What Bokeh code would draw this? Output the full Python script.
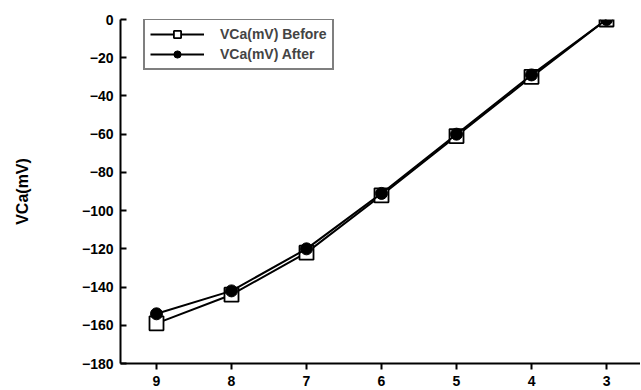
from bokeh.plotting import figure
from bokeh.models import Range1d, FixedTicker, Legend, LegendItem
from bokeh.embed import file_html
from bokeh.resources import INLINE

x_vals = [9, 8, 7, 6, 5, 4, 3]
before = [-159, -144, -122, -92, -61, -30, 0]
after = [-154, -142, -120, -91, -60, -29, 0]
y_ticks = [0, -20, -40, -60, -80, -100, -120, -140, -160, -180]
x_ticks = [9, 8, 7, 6, 5, 4, 3]
y_label = "VCa(mV)"
series_names = ["VCa(mV) Before", "VCa(mV) After"]

FONT = "Liberation Sans"

p = figure(width=640, height=388, output_backend="svg", toolbar_location=None,
           x_range=Range1d(9.48, 2.547), y_range=Range1d(-180, 0))
p.min_border_left = 120
p.min_border_top = 19
p.min_border_right = 0
p.min_border_bottom = 24
p.outline_line_color = None
p.xgrid.visible = False
p.ygrid.visible = False
p.background_fill_color = "white"
p.border_fill_color = "white"

r1l = p.line(x_vals, before, line_color="black", line_width=2)
r1m = p.scatter(x_vals, before, marker="square", size=14, fill_color="white",
                line_color="black", line_width=1.8)
r2l = p.line(x_vals, after, line_color="black", line_width=2)
r2m = p.scatter(x_vals, after, marker="circle", size=12, fill_color="black",
                line_color="black")

for ax in (p.xaxis[0], p.yaxis[0]):
    ax.axis_line_width = 2
    ax.axis_line_color = "black"
    ax.major_tick_line_width = 2
    ax.major_tick_line_color = "black"
    ax.minor_tick_line_color = None
    ax.major_label_text_font = FONT
    ax.major_label_text_font_style = "bold"
    ax.major_label_text_font_size = "14px"
    ax.major_label_text_color = "black"

p.xaxis.ticker = FixedTicker(ticks=x_ticks)
p.xaxis.major_tick_in = 0
p.xaxis.major_tick_out = 6
p.xaxis.major_label_standoff = 6

p.yaxis.ticker = FixedTicker(ticks=y_ticks)
p.yaxis.major_tick_in = 6
p.yaxis.major_tick_out = 0
p.yaxis.major_label_standoff = 7
p.yaxis.axis_label = y_label
p.yaxis.axis_label_text_font = FONT
p.yaxis.axis_label_text_font_style = "bold"
p.yaxis.axis_label_text_font_size = "16px"
p.yaxis.axis_label_text_color = "black"
p.yaxis.axis_label_standoff = 48

legend = Legend(items=[LegendItem(label=series_names[0], renderers=[r1l, r1m]),
                       LegendItem(label=series_names[1], renderers=[r2l, r2m])])
legend.border_line_color = "black"
legend.border_line_width = 2
legend.label_text_font = FONT
legend.label_text_font_style = "bold"
legend.label_text_font_size = "14px"
legend.glyph_width = 54
legend.glyph_height = 18
legend.label_height = 18
legend.spacing = 2
legend.padding = 5
legend.margin = 0
legend.location = (23, 293)
legend.label_standoff = 16
legend.background_fill_alpha = 1
p.add_layout(legend)

open("out.html", "w").write(file_html(p, INLINE))
